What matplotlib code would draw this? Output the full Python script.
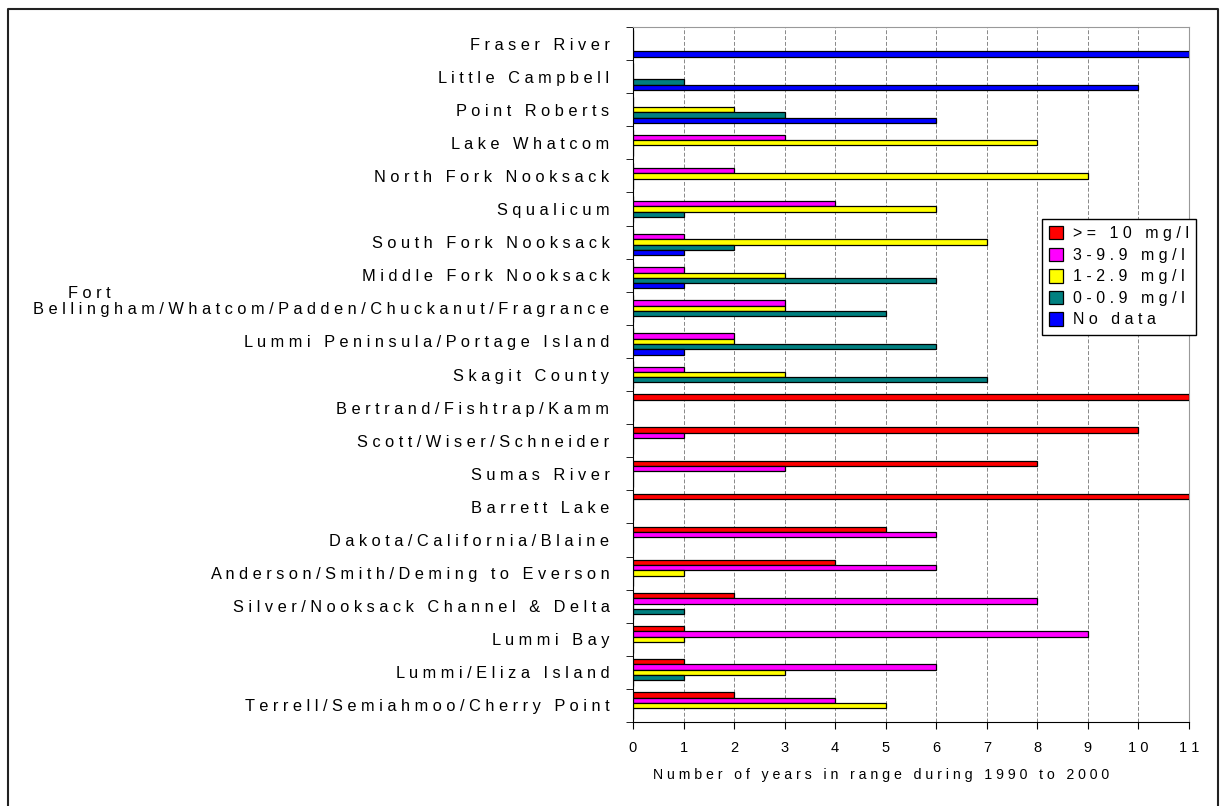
import numpy as np
import matplotlib
matplotlib.use("Agg")
import matplotlib.pyplot as plt
from matplotlib.lines import Line2D

plt.rcParams['font.family'] = ['Liberation Sans', 'DejaVu Sans']

# watersheds, top to bottom
sites = ['Fraser River', 'Little Campbell', 'Point Roberts', 'Lake Whatcom',
         'North Fork Nooksack', 'Squalicum', 'South Fork Nooksack',
         'Middle Fork Nooksack', 'Bellingham/Whatcom/Padden/Chuckanut/Fragrance',
         'Lummi Peninsula/Portage Island', 'Skagit County',
         'Bertrand/Fishtrap/Kamm', 'Scott/Wiser/Schneider', 'Sumas River',
         'Barrett Lake', 'Dakota/California/Blaine',
         'Anderson/Smith/Deming to Everson', 'Silver/Nooksack Channel & Delta',
         'Lummi Bay', 'Lummi/Eliza Island', 'Terrell/Semiahmoo/Cherry Point']

# years in each concentration range
ge10   = [0, 0, 0, 0, 0, 0, 0, 0, 0, 0, 0, 11, 10, 8, 11, 5, 4, 2, 1, 1, 2]
r3_9   = [0, 0, 0, 3, 2, 4, 1, 1, 3, 2, 1, 0, 1, 3, 0, 6, 6, 8, 9, 6, 4]
r1_2   = [0, 0, 2, 8, 9, 6, 7, 3, 3, 2, 3, 0, 0, 0, 0, 0, 1, 0, 1, 3, 5]
r0_09  = [0, 1, 3, 0, 0, 1, 2, 6, 5, 6, 7, 0, 0, 0, 0, 0, 0, 1, 0, 1, 0]
nodata = [11, 10, 6, 0, 0, 0, 1, 1, 0, 1, 0, 0, 0, 0, 0, 0, 0, 0, 0, 0, 0]

series = [ge10, r3_9, r1_2, r0_09, nodata]
labels = ['>= 10 mg/l', '3-9.9 mg/l', '1-2.9 mg/l', '0-0.9 mg/l', 'No data']
colors = ['#FF0000', '#FF00FF', '#FFFF00', '#008080', '#0000FF']


def spaced(s):
    # wide letter spacing like the old spreadsheet fonts
    return ' '.join(s)


fig = plt.figure(figsize=(12.22, 8.06), dpi=100)
ax = fig.add_axes([0.518, 0.1042, 0.455, 0.8623])

y = np.arange(len(sites))
h = 0.16
for i, (vals, lab, col) in enumerate(zip(series, labels, colors)):
    ax.barh(y + (i - 2) * h, vals, height=h, color=col, edgecolor='black',
            linewidth=0.9, label=spaced(lab), zorder=3)

ax.set_xlim(0, 11)
ax.set_ylim(len(sites) - 0.5, -0.5)

ax.set_xticks(range(12))
ax.set_xticklabels([spaced(str(v)) for v in range(12)], fontsize=10.5)
ax.tick_params(axis='x', direction='out', length=5, pad=9)
ax.xaxis.grid(True, linestyle=(0, (4, 2)), color='#888888', linewidth=0.7, zorder=0)

ax.set_yticks(y)
ax.set_yticklabels([spaced(s) for s in sites], fontsize=11.8)
ax.set_yticks(np.arange(len(sites) + 1) - 0.5, minor=True)
ax.tick_params(axis='y', which='major', length=0, pad=17)
ax.tick_params(axis='y', which='minor', direction='out', length=5)

# first line of the wrapped "Fort Bellingham" label
fig.text(68 / 1222, 1 - 293 / 806, spaced('Fort'), fontsize=11.8,
         ha='left', va='center')

ax.set_xlabel(spaced('Number of years in range during 1990 to 2000'),
              fontsize=10.2, x=0.446, labelpad=9)

for side in ['top', 'right']:
    ax.spines[side].set_color('#999999')
for side in ['left', 'bottom']:
    ax.spines[side].set_color('black')

leg = ax.legend(loc='upper right', bbox_to_anchor=(1196 / 1222, 1 - 219 / 806),
                bbox_transform=fig.transFigure, fontsize=11.5, fancybox=False,
                edgecolor='black', framealpha=1, handlelength=0.9,
                handleheight=0.9, handletextpad=0.6, labelspacing=0.4,
                borderpad=0.45, borderaxespad=0)
leg.get_frame().set_linewidth(1.0)

# outer frame (open at the bottom)
fig.add_artist(Line2D([8 / 1222, 8 / 1222, 1218 / 1222, 1218 / 1222],
                      [0, 1 - 9 / 806, 1 - 9 / 806, 0],
                      transform=fig.transFigure, color='#222222', linewidth=1.5))

fig.savefig('out.png', dpi=100)
